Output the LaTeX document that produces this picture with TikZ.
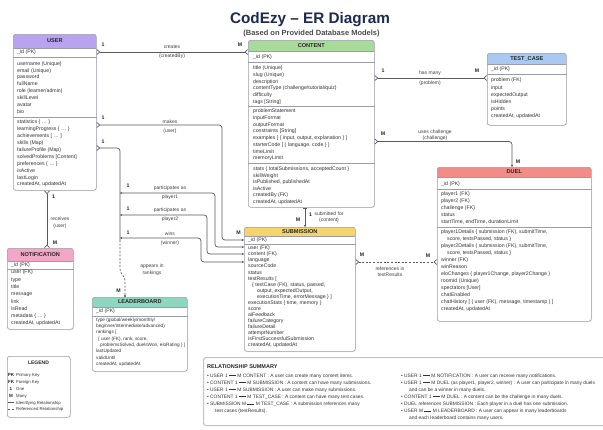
\documentclass[tikz,border=0pt]{standalone}
\usepackage{fontspec}
\setmainfont{Liberation Sans}
\usepackage{tikz}
\usetikzlibrary{arrows.meta, calc, shadows}

\definecolor{titleC}{HTML}{1F2B4D}
\definecolor{lnC}{HTML}{5A5A5A}
\definecolor{boxC}{HTML}{9A9CA6}
\definecolor{hdUser}{HTML}{B9A3F0}
\definecolor{hdContent}{HTML}{A8DA9A}
\definecolor{hdTest}{HTML}{A9C8F2}
\definecolor{hdDuel}{HTML}{F28C89}
\definecolor{hdSub}{HTML}{F6D46C}
\definecolor{hdNotif}{HTML}{F4A6C6}
\definecolor{hdLead}{HTML}{8FD6C1}
\newcommand{\rdash}{\rule[1.5pt]{7pt}{0.35pt}}

\begin{document}
\begin{tikzpicture}[
    x=1pt, y=-1pt,
    entity/.style 2 args={draw=boxC, line width=0.6pt, fill=white, rounded corners=2.5pt,
        anchor=north west, inner sep=0pt,
        drop shadow={opacity=0.12, shadow xshift=0.7pt, shadow yshift=-0.9pt},
        path picture={
          \fill[#1, sharp corners] (path picture bounding box.north west)
            rectangle ([yshift=-#2]path picture bounding box.north east);
          \draw[boxC, line width=0.5pt, sharp corners] ([yshift=-#2]path picture bounding box.north west)
            -- ([yshift=-#2]path picture bounding box.north east);}},
    panel/.style={draw=boxC, line width=0.6pt, fill=white, rounded corners=2.5pt,
        anchor=north west, inner sep=0pt},
    hd/.style={font=\bfseries\fontsize{5.6}{6}\selectfont, text=black!85, inner sep=0pt},
    fld/.style={anchor=base west, inner sep=0pt, font=\fontsize{5.2}{6}\selectfont, text=black!80},
    sepl/.style={draw=boxC, line width=0.45pt},
    lbl/.style={font=\fontsize{5}{6}\selectfont, text=black!75, inner sep=0.5pt},
    card/.style={font=\bfseries\fontsize{5.2}{6}\selectfont, text=black!85, inner sep=0.5pt},
    sumtx/.style={anchor=base west, inner sep=0pt, font=\fontsize{4.85}{6}\selectfont, text=black!80},
    rel/.style={draw=lnC, line width=0.7pt, rounded corners=3pt},
    refl/.style={dash pattern=on 2pt off 1.6pt},
    crows/.style={{Straight Barb[reversed,length=2.6pt,width=5pt]}-{Straight Barb[reversed,length=2.6pt,width=5pt]}},
    crowar/.style={{Straight Barb[reversed,length=2.6pt,width=5pt]}-{Stealth[length=2.4pt,width=2.6pt]}},
    arar/.style={{Stealth[length=2.2pt,width=2.4pt]}-{Stealth[length=2.2pt,width=2.4pt]}},
    oneto/.style={{Bar[width=4pt]}-{Stealth[length=2.4pt,width=2.6pt]}}
]
    \useasboundingbox (0,0) rectangle (603,429);
    \clip (0,0) rectangle (603,429);
    \fill[white] (0,0) rectangle (603,429);

    % --- title ---
    \node[font=\bfseries\fontsize{15.3}{16}\selectfont, text=titleC, anchor=base] (title)
      at (310,23.3) {CodEzy – ER Diagram};
    \node[font=\bfseries\fontsize{7.5}{8}\selectfont, text=black!70, anchor=base] (subtitle)
      at (311.5,35) {(Based on Provided Database Models)};

    % --- USER ---
    \node[entity={hdUser}{14pt}, minimum width=83pt, minimum height=156pt] (user) at (13,34) {};
    \node[hd] (userT) at ($(user.north)+(0,7)$) {USER};
    \node[fld] (userId) at (17,53.8) {\_id (PK)};
    \draw[sepl] (user.west |- 0,57) -- (user.east |- 0,57);
    \foreach \f [count=\i from 0] in {username (Unique), email (Unique), password, fullName,
        role (learner/admin), skillLevel, avatar, bio}
      \node[fld] (userA\i) at (17,{65.1+6.9*\i}) {\f};
    \draw[sepl] (user.west |- 0,117) -- (user.east |- 0,117);
    \foreach \f [count=\i from 0] in {statistics \{ \dots\ \}, learningProgress \{ \dots\ \},
        achievements [ \dots\ ], skills (Map), failureProfile (Map), solvedProblems [Content],
        preferences \{ \dots\ \}, isActive, lastLogin, {createdAt, updatedAt}}
      \node[fld] (userB\i) at (17,{123.8+6.9*\i}) {\f};

    % --- CONTENT ---
    \node[entity={hdContent}{11pt}, minimum width=126pt, minimum height=167pt] (content) at (248,40) {};
    \node[hd] (contentT) at ($(content.north)+(0,5.5)$) {CONTENT};
    \node[fld] (contentId) at (253,58.8) {\_id (PK)};
    \draw[sepl] (content.west |- 0,62) -- (content.east |- 0,62);
    \foreach \f [count=\i from 0] in {title (Unique), slug (Unique), description,
        contentType (challenge/tutorial/quiz), difficulty, tags [String]}
      \node[fld] (contentA\i) at (253,{69.5+6.8*\i}) {\f};
    \draw[sepl] (content.west |- 0,106) -- (content.east |- 0,106);
    \foreach \f [count=\i from 0] in {problemStatement, inputFormat, outputFormat, constraints [String],
        {examples [ \{ input, output, explanation \} ]}, {starterCode [ \{ language, code \} ]},
        timeLimit, memoryLimit}
      \node[fld] (contentB\i) at (253,{112.8+6.7*\i}) {\f};
    \draw[sepl] (content.west |- 0,163.5) -- (content.east |- 0,163.5);
    \foreach \f [count=\i from 0] in {{stats \{ totalSubmissions, acceptedCount \}}, skillWeight,
        {isPublished, publishedAt}, isActive, createdBy (FK), {createdAt, updatedAt}}
      \node[fld] (contentC\i) at (253,{170.5+6.6*\i}) {\f};

    % --- TEST_CASE ---
    \node[entity={hdTest}{11pt}, minimum width=79pt, minimum height=72pt] (testcase) at (487,53) {};
    \node[hd] (testcaseT) at ($(testcase.north)+(0,5.5)$) {TEST\_CASE};
    \node[fld] (testcaseId) at (491,70.8) {\_id (PK)};
    \draw[sepl] (testcase.west |- 0,74.5) -- (testcase.east |- 0,74.5);
    \foreach \f [count=\i from 0] in {problem (FK), input, expectedOutput, isHidden, points,
        {createdAt, updatedAt}}
      \node[fld] (testcaseA\i) at (491,{81.8+7.2*\i}) {\f};

    % --- DUEL ---
    \node[entity={hdDuel}{10pt}, minimum width=154pt, minimum height=154pt] (duel) at (437,167) {};
    \node[hd] (duelT) at ($(duel.north)+(0,5)$) {DUEL};
    \node[fld] (duelId) at (441,185.8) {\_id (PK)};
    \draw[sepl] (duel.west |- 0,189.5) -- (duel.east |- 0,189.5);
    \foreach \f [count=\i from 0] in {player1 (FK), player2 (FK), challenge (FK), status,
        {startTime, endTime, durationLimit}}
      \node[fld] (duelA\i) at (441,{195.8+6.9*\i}) {\f};
    \draw[sepl] (duel.west |- 0,227.5) -- (duel.east |- 0,227.5);
    \foreach \f [count=\i from 0] in {{player1Details \{ submission (FK), submitTime,},
        {\hspace*{6pt}score, testsPassed, status \}},
        {player2Details \{ submission (FK), submitTime,},
        {\hspace*{6pt}score, testsPassed, status \}},
        winner (FK), winReason, {eloChanges \{ player1Change, player2Change \}},
        roomId (Unique), spectators [User], chatEnabled,
        {chatHistory [ \{ user (FK), message, timestamp \} ]}, {createdAt, updatedAt}}
      \node[fld] (duelB\i) at (441,{233.8+7*\i}) {\f};

    % --- SUBMISSION ---
    \node[entity={hdSub}{9pt}, minimum width=111pt, minimum height=124pt] (submission) at (244,227) {};
    \node[hd] (submissionT) at ($(submission.north)+(0,4.5)$) {SUBMISSION};
    \node[fld] (submissionId) at (248,241.8) {\_id (PK)};
    \draw[sepl] (submission.west |- 0,244.5) -- (submission.east |- 0,244.5);
    \foreach \f [count=\i from 0] in {user (FK), content (FK), language, sourceCode, status,
        testResults [, {\hspace*{4pt}\{ testCase (FK), status, passed,},
        {\hspace*{9pt}output, expectedOutput,}, {\hspace*{9pt}executionTime, errorMessage \} ]},
        {executionStats \{ time, memory \}}, score, aiFeedback, failureCategory, failureDetail,
        attemptNumber, isFirstSuccessfulSubmission, {createdAt, updatedAt}}
      \node[fld] (submissionA\i) at (248,{249.8+6.06*\i}) {\f};

    % --- NOTIFICATION ---
    \node[entity={hdNotif}{13pt}, minimum width=66pt, minimum height=81pt] (notification) at (7,248) {};
    \node[hd] (notificationT) at ($(notification.north)+(0,6.5)$) {NOTIFICATION};
    \node[fld] (notificationId) at (11,266.8) {\_id (PK)};
    \draw[sepl] (notification.west |- 0,269.5) -- (notification.east |- 0,269.5);
    \foreach \f [count=\i from 0] in {user (FK), type, title, message, link, isRead,
        metadata \{ \dots\ \}, {createdAt, updatedAt}}
      \node[fld] (notificationA\i) at (11,{273.8+7.3*\i}) {\f};

    % --- LEADERBOARD ---
    \node[entity={hdLead}{10pt}, minimum width=95pt, minimum height=74pt] (leaderboard) at (92,297) {};
    \node[hd] (leaderboardT) at ($(leaderboard.north)+(0,5)$) {LEADERBOARD};
    \node[fld] (leaderboardId) at (96,312.8) {\_id (PK)};
    \draw[sepl] (leaderboard.west |- 0,316) -- (leaderboard.east |- 0,316);
    \foreach \f [count=\i from 0] in {type (global/weekly/monthly/, beginner/intermediate/advanced),
        rankings [, {\hspace*{2pt}\{ user (FK), rank, score,},
        {\hspace*{4pt}problemsSolved, duelsWon, eloRating \} ]},
        lastUpdated, validUntil, {createdAt, updatedAt}}
      \node[fld, font=\fontsize{4.7}{6}\selectfont] (leaderboardA\i) at (96,{321.3+6.3*\i}) {\f};

    % --- relationships ---
    \coordinate (tk) at (120,0);
    \draw[rel, crows] (user.east |- 0,52) -- (content.west |- 0,52);
    \node[card] (cCr1) at (103,45) {1};
    \node[card] (cCrM) at (240,45) {M};
    \node[lbl] (lCr) at (172,47) {creates};
    \node[lbl] (lCrB) at (172,56.5) {(createdBy)};

    \draw[rel, crowar] (user.east |- 0,125) -- (222,125) -- (222,240) -- (submission.west |- 0,240);
    \node[card] (cMk1) at (103,118) {1};
    \node[card] (cMkM) at (238.5,233) {M};
    \node[lbl] (lMk) at (170,121.5) {makes};
    \node[lbl] (lMkB) at (170,131) {(user)};

    \draw[rel, {Straight Barb[reversed,length=2.6pt,width=5pt]}-] (user.east |- 0,148) -- (tk |- 0,148) -- (tk |- 0,240);
    \node[card] (cTk1) at (103,142) {1};
    \draw[rel, arar] (tk |- 0,193) -- (215,193) -- (215,247) -- (submission.west |- 0,247);
    \node[card] (cP11) at (128,186) {1};
    \node[lbl] (lP1) at (170,188.5) {participates as};
    \node[lbl] (lP1B) at (170,197.5) {player1};
    \draw[rel, arar] (tk |- 0,215) -- (207,215) -- (207,254) -- (submission.west |- 0,254);
    \node[card] (cP21) at (128,208.5) {1};
    \node[lbl] (lP2) at (170,210.5) {participates as};
    \node[lbl] (lP2B) at (170,219.5) {player2};
    \draw[rel, arar] (tk |- 0,238) -- (201,238) -- (201,262) -- (submission.west |- 0,262);
    \node[card] (cW1) at (128,232.5) {1};
    \node[lbl] (lW) at (170,234) {wins};
    \node[lbl] (lWB) at (170,243) {(winner)};

    \draw[rel, refl, -{Circle[length=2pt]}] (tk |- 0,240) -- (tk |- 0,272) -- (125,278)
      -- (leaderboard.north -| 125,0);
    \node[card] (cLbM) at (118.5,291) {M};
    \node[lbl] (lLb) at (152,266.5) {appears in};
    \node[lbl] (lLbB) at (152,273) {rankings};

    \draw[rel, crows] (user.south -| 47,0) -- (notification.north -| 47,0);
    \node[card] (cRc1) at (53.5,197) {1};
    \node[card] (cRcM) at (55,243) {M};
    \node[lbl] (lRc) at (60,219) {receives};
    \node[lbl] (lRcB) at (60,226) {(user)};

    \draw[rel, oneto] (content.south -| 305,0) -- (submission.north -| 305,0);
    \node[card] (cSf1) at (310.5,214.5) {1};
    \node[card] (cSfM) at (298,220) {M};
    \node[lbl] (lSf) at (329,214) {submitted for};
    \node[lbl] (lSfB) at (329,220.5) {(content)};

    \draw[rel, crows] (content.east |- 0,78) -- (testcase.west |- 0,78);
    \node[card] (cHm1) at (383,71) {1};
    \node[card] (cHmM) at (477,71) {M};
    \node[lbl] (lHm) at (430,73.5) {has many};
    \node[lbl] (lHmB) at (430,83) {(problem)};

    \draw[rel, crowar] (content.east |- 0,141.5) -- (512,141.5) -- (duel.north -| 512,0);
    \node[card] (cUcM) at (383,134) {M};
    \node[card] (cUcD) at (518,162) {M};
    \node[lbl] (lUc) at (435,132.5) {uses challenge};
    \node[lbl] (lUcB) at (435,138.5) {(challenge)};

    \draw[rel, refl, crows] (submission.east |- 0,262) -- (duel.west |- 0,262);
    \node[card] (cRfS) at (362,255) {M};
    \node[card] (cRfD) at (428,256) {M};
    \node[lbl] (lRf) at (390,268.5) {references in};
    \node[lbl] (lRfB) at (390,274.5) {testResults};

    % --- legend ---
    \node[panel, minimum width=63pt, minimum height=61pt] (legend) at (7,356) {};
    \node[font=\bfseries\fontsize{5}{6}\selectfont, text=black!85, anchor=base] (legendT) at (38.5,364.3) {LEGEND};
    \foreach \a/\d [count=\i from 0] in {PK/Primary Key, FK/Foreign Key, 1/One, M/Many} {
      \node[font=\bfseries\fontsize{4.5}{5}\selectfont, text=black!85, anchor=base, inner sep=0pt]
        (legK\i) at (11,{376.3+6.9*\i}) {\a};
      \node[sumtx, font=\fontsize{4.3}{5}\selectfont] (legD\i) at (16,{376.3+6.9*\i}) {\d};
    }
    \draw[lnC, line width=0.6pt] (8,402.7) -- (14,402.7);
    \node[sumtx, font=\fontsize{4.3}{5}\selectfont] (legD4) at (16,404.2) {Identifying Relationship};
    \draw[lnC, line width=0.6pt, refl] (8,409.3) -- (14.5,409.3);
    \node[sumtx, font=\fontsize{4.3}{5}\selectfont] (legD5) at (16,410.8) {Referenced Relationship};

    % --- relationship summary ---
    \node[panel, draw=boxC!60, line width=1.2pt, minimum width=410pt, minimum height=68pt] (summary) at (203,357) {};
    \node[sumtx, font=\bfseries\fontsize{5.5}{6}\selectfont, text=black!85] (summaryT) at (207,368) {RELATIONSHIP SUMMARY};
    \node[sumtx] (s1) at (207,377) {• USER 1 \rdash\ M CONTENT : A user can create many content items.};
    \node[sumtx] (s2) at (207,384.1) {• CONTENT 1 \rdash\ M SUBMISSION : A content can have many submissions.};
    \node[sumtx] (s3) at (207,391.2) {• USER 1 \rdash\ M SUBMISSION : A user can make many submissions.};
    \node[sumtx] (s4) at (207,398.3) {• CONTENT 1 \rdash\ M TEST\_CASE : A content can have many test cases.};
    \node[sumtx] (s5) at (207,405.4) {• SUBMISSION M \rdash\ M TEST\_CASE : A submission references many};
    \node[sumtx] (s5b) at (215,412.5) {test cases (testResults).};
    \node[sumtx] (t1) at (401,377) {• USER 1 \rdash\ M NOTIFICATION : A user can receive many notifications.};
    \node[sumtx] (t2) at (401,384.1) {• USER 1 \rdash\ M DUEL (as player1, player2, winner) : A user can participate in many duels};
    \node[sumtx] (t2b) at (409,391.2) {and can be a winner in many duels.};
    \node[sumtx] (t3) at (401,398.3) {• CONTENT 1 \rdash\ M DUEL : A content can be the challenge in many duels.};
    \node[sumtx] (t4) at (401,405.4) {• DUEL references SUBMISSION : Each player in a duel has one submission.};
    \node[sumtx] (t5) at (401,412.5) {• USER M \rdash\ M LEADERBOARD : A user can appear in many leaderboards};
    \node[sumtx] (t5b) at (409,419.6) {and each leaderboard contains many users.};
\end{tikzpicture}
\end{document}
